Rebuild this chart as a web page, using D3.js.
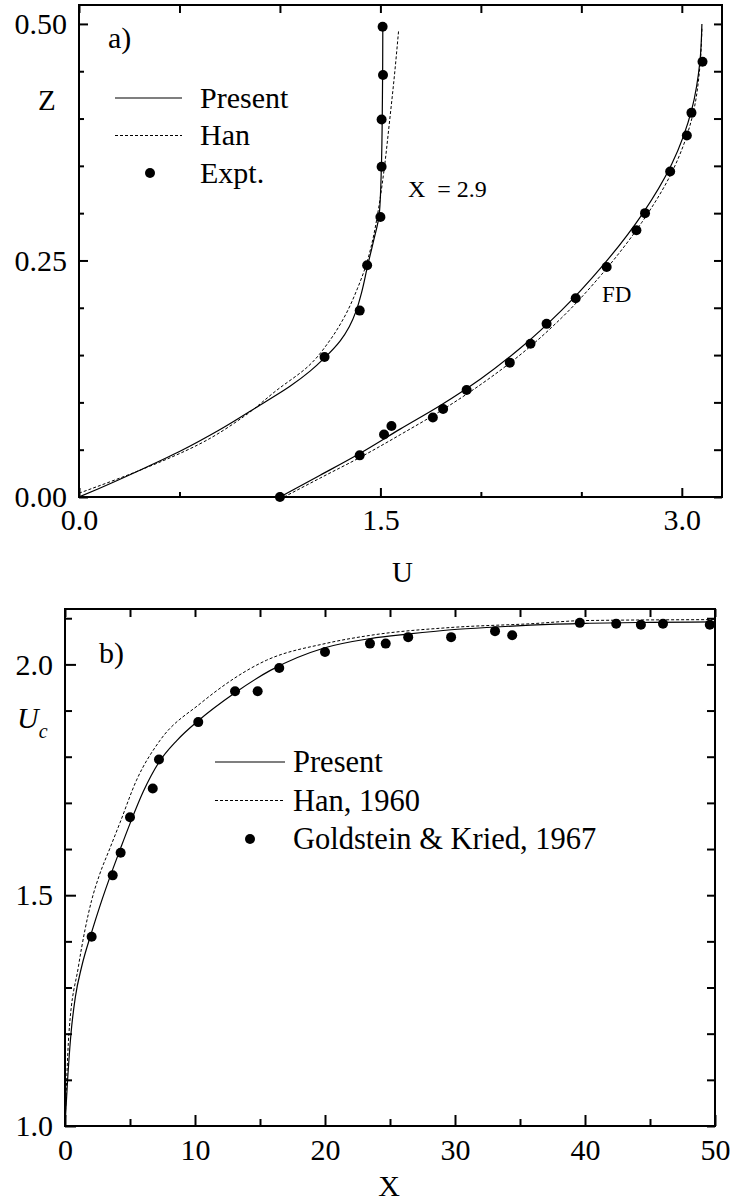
<!DOCTYPE html>
<html>
<head>
<meta charset="utf-8">
<script src="https://cdn.jsdelivr.net/npm/d3@7"></script>
<style>
  body { margin: 0; background: #fff; }
  svg text { font-family: "Liberation Serif", "Times New Roman", serif; fill: #000; }
  .axis path { display: none; }
  .axis line { stroke: #000; stroke-width: 2; }
</style>
</head>
<body>
<svg id="chart" width="731" height="1201"></svg>
<script>
// ---- panel a) velocity profiles, U vs Z ----
// X = 2.9 profile
var presentLeftU = [0, 0.1, 0.3, 0.5, 0.7, 0.9, 1.05, 1.15, 1.222, 1.30, 1.345, 1.38, 1.405, 1.437, 1.465, 1.495, 1.505, 1.51, 1.512];
var presentLeftZ = [0, 0.009, 0.028, 0.048, 0.071, 0.097, 0.117, 0.133, 0.147, 0.165, 0.18, 0.197, 0.215, 0.245, 0.27, 0.30, 0.35, 0.42, 0.50];
var hanLeftU = [0, 0.3, 0.6, 0.82, 0.985, 1.14, 1.25, 1.32, 1.385, 1.43, 1.462, 1.487, 1.516, 1.546, 1.57, 1.591];
var hanLeftZ = [0.004, 0.028, 0.056, 0.085, 0.113, 0.138, 0.166, 0.19, 0.22, 0.246, 0.272, 0.30, 0.342, 0.398, 0.446, 0.494];
// fully developed profile
var presentFdU = [1.0, 1.2, 1.397, 1.6, 1.8, 2.0, 2.2, 2.4, 2.6, 2.8, 2.95, 3.05, 3.09, 3.10];
var presentFdZ = [0.0, 0.023, 0.046, 0.072, 0.097, 0.125, 0.158, 0.197, 0.243, 0.298, 0.352, 0.41, 0.46, 0.50];
var hanFdU = [1.02, 1.2, 1.4, 1.6, 1.8, 2.0, 2.2, 2.4, 2.6, 2.8, 2.95, 3.05, 3.09, 3.10];
var hanFdZ = [0.0, 0.020, 0.042, 0.066, 0.091, 0.119, 0.151, 0.189, 0.235, 0.290, 0.343, 0.40, 0.455, 0.495];
// experiments
var exptU = [1.511, 1.513, 1.506, 1.506, 1.500, 1.434, 1.397, 1.222,
             3.103, 3.048, 3.025, 2.942, 2.817, 2.774, 2.626, 2.472, 2.327, 2.247, 2.144, 1.929, 1.812, 1.761, 1.555, 1.518, 1.397, 1.0];
var exptZ = [0.497, 0.446, 0.399, 0.349, 0.296, 0.245, 0.197, 0.148,
             0.460, 0.406, 0.382, 0.344, 0.300, 0.282, 0.243, 0.210, 0.183, 0.162, 0.142, 0.113, 0.093, 0.084, 0.075, 0.066, 0.044, 0.0];

// ---- panel b) centreline velocity, X vs Uc ----
var presentX = [0, 0.2, 0.46, 0.8, 1.28, 2.05, 2.69, 3.67, 4.28, 5.0, 6.03, 7.23, 8.6, 10.25, 13.0, 15.8, 20, 23.5, 26.5, 29.7, 33.1, 35.8, 40, 45, 50];
var presentUc = [1.0, 1.1, 1.2, 1.28, 1.345, 1.42, 1.477, 1.556, 1.602, 1.655, 1.725, 1.788, 1.835, 1.878, 1.937, 1.987, 2.036, 2.056, 2.066, 2.075, 2.081, 2.085, 2.089, 2.091, 2.092];
var hanX = [0, 0.13, 0.3, 1.03, 2.05, 2.64, 3.46, 4.23, 5.5, 7.3, 10.4, 15.5, 20, 23.5, 29.7, 35.8, 40, 50];
var hanUc = [1.0, 1.1, 1.2, 1.345, 1.489, 1.543, 1.602, 1.657, 1.749, 1.835, 1.915, 2.009, 2.045, 2.063, 2.080, 2.088, 2.095, 2.097];
var goldX = [2.05, 3.67, 4.28, 5.0, 6.75, 7.23, 10.25, 13.08, 14.82, 16.48, 20.0, 23.46, 24.67, 26.4, 29.7, 33.08, 34.4, 39.6, 42.4, 44.3, 46.0, 49.6];
var goldUc = [1.410, 1.543, 1.592, 1.669, 1.731, 1.794, 1.875, 1.942, 1.942, 1.992, 2.027, 2.045, 2.045, 2.059, 2.059, 2.072, 2.063, 2.090, 2.088, 2.086, 2.088, 2.086];

var FONT = '"Liberation Serif", "Times New Roman", serif';
var svg = d3.select("#chart");

function zip(a, b) { return a.map(function(d, i) { return [d, b[i]]; }); }

// draw frame + ticks for one panel
function drawFrame(g, x, y, o) {
	var w = x.range()[1], h = y.range()[0];

	g.append("g").attr("class", "axis")
		.attr("transform", "translate(0," + h + ")")
		.call(d3.axisBottom(x).tickValues(o.xMinor).tickSize(-o.minorLen).tickFormat(""));
	g.append("g").attr("class", "axis")
		.attr("transform", "translate(0," + h + ")")
		.call(d3.axisBottom(x).tickValues(o.xMajor).tickSize(-o.majorLen).tickPadding(o.xPad).tickFormat(d3.format(o.xFmt)))
		.selectAll("text").style("font-size", o.font + "px");
	g.append("g").attr("class", "axis")
		.call(d3.axisLeft(y).tickValues(o.yMinor).tickSize(-o.minorLen).tickFormat(""));
	g.append("g").attr("class", "axis")
		.call(d3.axisLeft(y).tickValues(o.yMajor).tickSize(-o.majorLen).tickPadding(o.yPad).tickFormat(d3.format(o.yFmt)))
		.selectAll("text").style("font-size", o.font + "px").attr("dy", "0.32em");
	g.append("g").attr("class", "axis")
		.call(d3.axisTop(x).tickValues(o.xMinor.concat(o.xMajor)).tickSize(-o.oppLen).tickFormat(""));
	g.append("g").attr("class", "axis")
		.attr("transform", "translate(" + w + ",0)")
		.call(d3.axisRight(y).tickValues(o.yMinor.concat(o.yMajor)).tickSize(-o.oppLen).tickFormat(""));

	g.append("rect")
		.attr("width", w).attr("height", h)
		.attr("fill", "none").attr("stroke", "#000").attr("stroke-width", 2);
}

function drawLegend(g, x0, y0, step, len, textX, labels, font) {
	var lg = g.append("g").attr("transform", "translate(" + x0 + "," + y0 + ")");
	lg.append("line").attr("x1", 0).attr("x2", len).attr("y1", 0).attr("y2", 0)
		.attr("stroke", "#000").attr("stroke-width", 1.2);
	lg.append("line").attr("x1", 0).attr("x2", len).attr("y1", step).attr("y2", step)
		.attr("stroke", "#000").attr("stroke-width", 1).attr("stroke-dasharray", "3,2");
	lg.append("circle").attr("cx", 35).attr("cy", 2 * step).attr("r", 5).attr("fill", "#000");
	lg.selectAll("text").data(labels).enter().append("text")
		.attr("x", textX).attr("y", function(d, i) { return i * step; })
		.attr("dy", "0.33em")
		.style("font-size", font + "px")
		.text(function(d) { return d; });
}

// ===== panel a =====
(function() {
	var left = 79, top = 5, w = 643, h = 492;
	var x = d3.scaleLinear().domain([0, 3.2]).range([0, w]);
	var y = d3.scaleLinear().domain([0, 0.52]).range([h, 0]);
	var g = svg.append("g").attr("transform", "translate(" + left + "," + top + ")");

	g.append("clipPath").attr("id", "clipA").append("rect").attr("width", w).attr("height", h);

	var line = d3.line().x(function(d) { return x(d[0]); }).y(function(d) { return y(d[1]); })
		.curve(d3.curveMonotoneY);
	var curves = g.append("g").attr("clip-path", "url(#clipA)");
	[[presentLeftU, presentLeftZ, false], [presentFdU, presentFdZ, false],
	 [hanLeftU, hanLeftZ, true], [hanFdU, hanFdZ, true]].forEach(function(c) {
		curves.append("path").datum(zip(c[0], c[1]))
			.attr("d", line).attr("fill", "none").attr("stroke", "#000")
			.attr("stroke-width", c[2] ? 1 : 1.2)
			.attr("stroke-dasharray", c[2] ? "3,2" : null);
	});
	g.append("g").selectAll("circle").data(zip(exptU, exptZ)).enter().append("circle")
		.attr("cx", function(d) { return x(d[0]); })
		.attr("cy", function(d) { return y(d[1]); })
		.attr("r", 5).attr("fill", "#000");

	drawFrame(g, x, y, {
		xMajor: [0, 1.5, 3.0], xMinor: [0.5, 1.0, 2.0, 2.5],
		yMajor: [0, 0.25, 0.5], yMinor: d3.range(1, 10).filter(function(i) { return i !== 5; }).map(function(i) { return i * 0.05; }),
		majorLen: 9, minorLen: 5, oppLen: 8, xPad: 12, yPad: 12,
		xFmt: ".1f", yFmt: ".2f", font: 30
	});

	g.append("text").attr("x", 29).attr("y", 43).style("font-size", "30px").text("a)");
	g.append("text").attr("x", -41).attr("y", 105).style("font-size", "29px").text("Z");
	g.append("text").attr("x", 313).attr("y", 577).style("font-size", "29px").text("U");
	g.append("text").attr("x", 329).attr("y", 192).style("font-size", "24px").attr("xml:space", "preserve").text("X  = 2.9");
	g.append("text").attr("x", 523).attr("y", 297).style("font-size", "23px").text("FD");

	drawLegend(g, 36, 93, 37.5, 67, 85, ["Present", "Han", "Expt."], 30);
})();

// ===== panel b =====
(function() {
	var left = 65, top = 609, w = 650, h = 517;
	var x = d3.scaleLinear().domain([0, 50]).range([0, w]);
	var y = d3.scaleLinear().domain([1, 2.12]).range([h, 0]);
	var g = svg.append("g").attr("transform", "translate(" + left + "," + top + ")");

	g.append("clipPath").attr("id", "clipB").append("rect").attr("width", w).attr("height", h);

	var line = d3.line().x(function(d) { return x(d[0]); }).y(function(d) { return y(d[1]); })
		.curve(d3.curveMonotoneX);
	var curves = g.append("g").attr("clip-path", "url(#clipB)");
	curves.append("path").datum(zip(presentX, presentUc))
		.attr("d", line).attr("fill", "none").attr("stroke", "#000").attr("stroke-width", 1.2);
	curves.append("path").datum(zip(hanX, hanUc))
		.attr("d", line).attr("fill", "none").attr("stroke", "#000").attr("stroke-width", 1)
		.attr("stroke-dasharray", "3,2");
	g.append("g").selectAll("circle").data(zip(goldX, goldUc)).enter().append("circle")
		.attr("cx", function(d) { return x(d[0]); })
		.attr("cy", function(d) { return y(d[1]); })
		.attr("r", 5).attr("fill", "#000");

	var yMinor = d3.range(1, 12).filter(function(i) { return i !== 5 && i !== 10; }).map(function(i) { return 1 + i * 0.1; });
	drawFrame(g, x, y, {
		xMajor: [0, 10, 20, 30, 40, 50], xMinor: [5, 15, 25, 35, 45],
		yMajor: [1.0, 1.5, 2.0], yMinor: yMinor,
		majorLen: 11, minorLen: 7, oppLen: 8, xPad: 13, yPad: 12,
		xFmt: "d", yFmt: ".1f", font: 30
	});

	g.append("text").attr("x", 34).attr("y", 54).style("font-size", "30px").text("b)");
	var uc = g.append("text").attr("x", -48).attr("y", 119).style("font-size", "30px").style("font-style", "italic");
	uc.append("tspan").text("U");
	uc.append("tspan").attr("dy", 10).style("font-size", "20px").text("c");
	g.append("text").attr("x", 324).attr("y", 587).attr("text-anchor", "middle").style("font-size", "30px").text("X");

	drawLegend(g, 150, 153, 38.5, 70, 78, ["Present", "Han, 1960", "Goldstein & Kried, 1967"], 30.5);
})();

// serif everywhere, including the axis labels d3 marks as sans-serif
svg.selectAll("g").attr("font-family", FONT);
svg.selectAll("text").style("font-family", FONT);
</script>
</body>
</html>
